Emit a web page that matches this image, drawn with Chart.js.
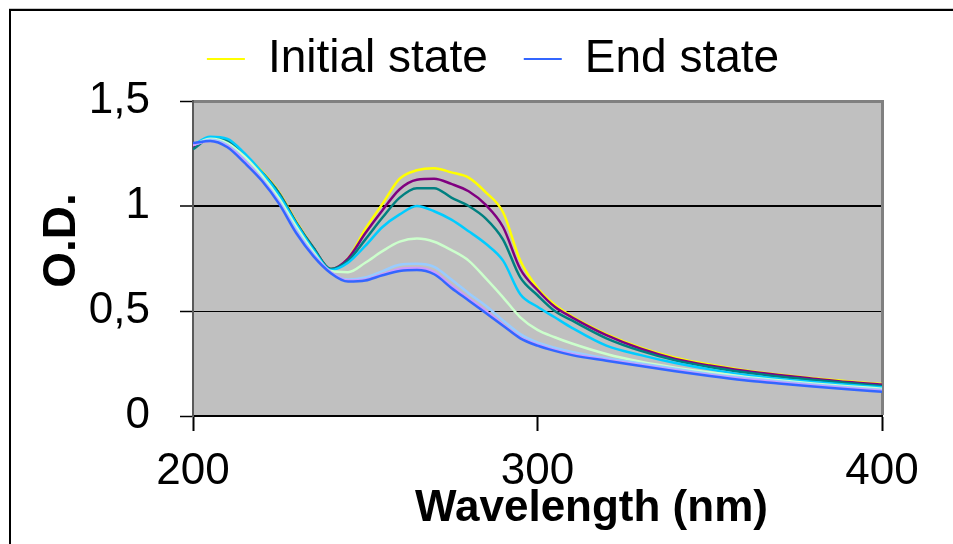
<!DOCTYPE html>
<html>
<head>
<meta charset="utf-8">
<title>O.D. spectra</title>
<script src="https://cdn.jsdelivr.net/npm/chart.js@4.4.1/dist/chart.umd.min.js"></script>
<style>
  html, body { margin: 0; padding: 0; background: #fff; }
  #wrap { position: relative; width: 953px; height: 544px; overflow: hidden; }
  #frame {
    position: absolute; left: 9px; top: 9px; right: -10px; bottom: -10px;
    border-top: 2px solid #000; border-left: 2px solid #000;
    box-shadow: 0 -1px 0 #c8c8c8;
  }
  #chart { position: absolute; left: 0; top: 0; }
</style>
</head>
<body>
<div id="wrap">
  <div id="frame"></div>
  <canvas id="chart" width="953" height="544"></canvas>
</div>
<script>
const FONT = "'Liberation Sans', Arial, Helvetica, sans-serif";

// wavelength grid (nm)
const wavelength = [200, 205, 210, 215, 220, 225, 230, 235, 240, 245, 250, 255, 260, 265, 270, 275,
                    280, 285, 290, 295, 300, 305, 310, 320, 330, 340, 350, 360, 370, 380, 390, 400];

// O.D., one array per scan
const initialState = [1.28, 1.32, 1.315, 1.245, 1.165, 1.065, 0.925, 0.80, 0.70, 0.75, 0.89, 1.01, 1.13, 1.17, 1.18, 1.16,
                      1.135, 1.065, 0.97, 0.74, 0.61, 0.53, 0.475, 0.39, 0.325, 0.278, 0.245, 0.218, 0.198, 0.18, 0.165, 0.152];
const scan2 = [1.28, 1.32, 1.31, 1.24, 1.16, 1.06, 0.92, 0.80, 0.70, 0.75, 0.87, 0.98, 1.08, 1.125, 1.13, 1.105,
               1.07, 1.005, 0.90, 0.70, 0.60, 0.52, 0.47, 0.385, 0.32, 0.272, 0.24, 0.215, 0.195, 0.178, 0.162, 0.15];
const scan3 = [1.27, 1.32, 1.31, 1.24, 1.16, 1.06, 0.92, 0.80, 0.70, 0.74, 0.84, 0.945, 1.04, 1.085, 1.085, 1.04,
               1.00, 0.94, 0.84, 0.66, 0.575, 0.50, 0.455, 0.37, 0.31, 0.265, 0.233, 0.208, 0.188, 0.172, 0.157, 0.143];
const scan4 = [1.29, 1.33, 1.32, 1.25, 1.16, 1.05, 0.915, 0.79, 0.695, 0.73, 0.81, 0.90, 0.96, 1.00, 0.975, 0.935,
               0.88, 0.82, 0.74, 0.58, 0.52, 0.47, 0.42, 0.335, 0.29, 0.252, 0.222, 0.196, 0.177, 0.162, 0.149, 0.137];
const scan5 = [1.29, 1.32, 1.30, 1.235, 1.145, 1.035, 0.90, 0.78, 0.69, 0.685, 0.73, 0.785, 0.83, 0.845, 0.83, 0.79,
               0.74, 0.655, 0.565, 0.47, 0.41, 0.375, 0.345, 0.295, 0.258, 0.23, 0.208, 0.187, 0.17, 0.155, 0.142, 0.13];
const scan6 = [1.29, 1.315, 1.29, 1.22, 1.13, 1.02, 0.885, 0.77, 0.685, 0.65, 0.66, 0.69, 0.72, 0.725, 0.71, 0.65,
               0.585, 0.525, 0.455, 0.39, 0.35, 0.325, 0.305, 0.275, 0.25, 0.225, 0.20, 0.182, 0.165, 0.15, 0.137, 0.125];
const scan7 = [1.29, 1.31, 1.285, 1.215, 1.125, 1.015, 0.875, 0.765, 0.685, 0.645, 0.65, 0.675, 0.70, 0.705, 0.685, 0.62,
               0.56, 0.50, 0.435, 0.375, 0.34, 0.315, 0.295, 0.268, 0.243, 0.218, 0.195, 0.176, 0.16, 0.145, 0.132, 0.12];
const endState = [1.30, 1.31, 1.28, 1.205, 1.12, 1.01, 0.87, 0.76, 0.68, 0.64, 0.645, 0.67, 0.69, 0.695, 0.675, 0.61,
                  0.55, 0.49, 0.43, 0.37, 0.335, 0.31, 0.29, 0.263, 0.238, 0.213, 0.19, 0.17, 0.155, 0.14, 0.127, 0.115];

const seriesLabels = ["Initial state", "Scan 2", "Scan 3", "Scan 4", "Scan 5", "Scan 6", "Scan 7", "End state"];
const seriesValues = [initialState, scan2, scan3, scan4, scan5, scan6, scan7, endState];
const seriesColors = ["#ffff00", "#800080", "#008080", "#00ccff", "#ccffcc", "#99ccff", "#cc99ff", "#3366ff"];
const legendSeries = ["Initial state", "End state"];

const xTickValues = [200, 300, 400];
const yTickValues = [0, 0.5, 1, 1.5];
const xTitle = "Wavelength (nm)";
const yTitle = "O.D.";

// grey plot area with darker top/right edge, like the spreadsheet chart
const plotFrame = {
  id: "plotFrame",
  beforeDraw(chart) {
    const { ctx, chartArea: a } = chart;
    ctx.save();
    ctx.fillStyle = "#c0c0c0";
    ctx.fillRect(a.left, a.top, a.right - a.left, a.bottom - a.top);
    ctx.restore();
  },
  beforeDatasetsDraw(chart) {
    const { ctx, chartArea: a } = chart;
    ctx.save();
    ctx.fillStyle = "#808080";
    ctx.fillRect(a.left + 1, a.top - 1, a.right - a.left + 1, 3);
    ctx.fillRect(a.right - 1, a.top - 1, 3, a.bottom - a.top);
    ctx.restore();
  }
};

// axis titles sit off-centre in the original, so they are placed here
const axisTitles = {
  id: "axisTitles",
  afterDraw(chart) {
    const { ctx, chartArea: a } = chart;
    ctx.save();
    ctx.fillStyle = "#000";
    ctx.textAlign = "center";
    ctx.textBaseline = "middle";
    ctx.font = `bold 44px ${FONT}`;
    ctx.fillText(xTitle, (a.left + a.right) / 2 + 54, a.bottom + 93);
    ctx.translate(a.left - 131, (a.top + a.bottom) / 2 - 18);
    ctx.rotate(-Math.PI / 2);
    ctx.font = `bold 46px ${FONT}`;
    ctx.fillText(yTitle, 0, 0);
    ctx.restore();
  }
};

const datasets = seriesValues.map((vals, i) => ({
  label: seriesLabels[i],
  data: wavelength.map((x, j) => ({ x, y: vals[j] })),
  borderColor: seriesColors[i],
  backgroundColor: seriesColors[i],
  borderWidth: 2.5,
  pointRadius: 0,
  cubicInterpolationMode: "monotone",
  order: seriesValues.length - i
}));

new Chart(document.getElementById("chart").getContext("2d"), {
  type: "line",
  data: { datasets },
  plugins: [plotFrame, axisTitles],
  options: {
    responsive: false,
    animation: false,
    events: [],
    layout: { padding: { left: 33, right: 0, top: 0, bottom: 0 } },
    plugins: {
      tooltip: { enabled: false },
      legend: {
        position: "top",
        labels: {
          color: "#000",
          font: { family: FONT, size: 46 },
          boxWidth: 38,
          boxHeight: 2,
          padding: 36,
          generateLabels: chart => chart.data.datasets
            .map((ds, i) => ({ text: ds.label, fillStyle: ds.borderColor, strokeStyle: ds.borderColor,
                               lineWidth: 0, datasetIndex: i, hidden: false, fontColor: "#000" }))
            .filter(item => legendSeries.includes(item.text))
        }
      },
      // empty spacer between legend and plot
      title: { display: true, text: "", position: "top", weight: 500, padding: 0, font: { size: 9, lineHeight: 1 } }
    },
    scales: {
      x: {
        type: "linear", min: 200, max: 400,
        afterBuildTicks: s => { s.ticks = xTickValues.map(v => ({ value: v })); },
        afterFit: s => { s.height = 128; },
        grid: { drawOnChartArea: false, drawTicks: true, tickLength: 15, tickColor: "#000", tickWidth: 2 },
        border: { display: true, color: "#000", width: 2 },
        ticks: { color: "#000", font: { family: FONT, size: 44 }, padding: 14, maxRotation: 0, autoSkip: false }
      },
      y: {
        min: 0, max: 1.5,
        afterBuildTicks: s => { s.ticks = yTickValues.map(v => ({ value: v })); },
        afterFit: s => { s.width = 160; },
        grid: {
          color: c => (c.tick && c.tick.value === 1.5 ? "rgba(0,0,0,0)" : "#000"),
          lineWidth: c => (c.tick && c.tick.value === 1 ? 2 : 1),
          tickLength: 13, tickColor: "#000", tickWidth: 1.5
        },
        border: { color: "#5a5a5a", width: 2 },
        ticks: { color: "#000", font: { family: FONT, size: 44 }, padding: 30,
                 callback: v => String(v).replace(".", ",") }
      },
      // empty right-hand axis: keeps the white margin right of the plot
      spacer: {
        position: "right",
        grid: { display: false },
        border: { display: false },
        ticks: { display: false },
        afterFit: s => { s.width = 71; }
      }
    }
  }
});
</script>
</body>
</html>
